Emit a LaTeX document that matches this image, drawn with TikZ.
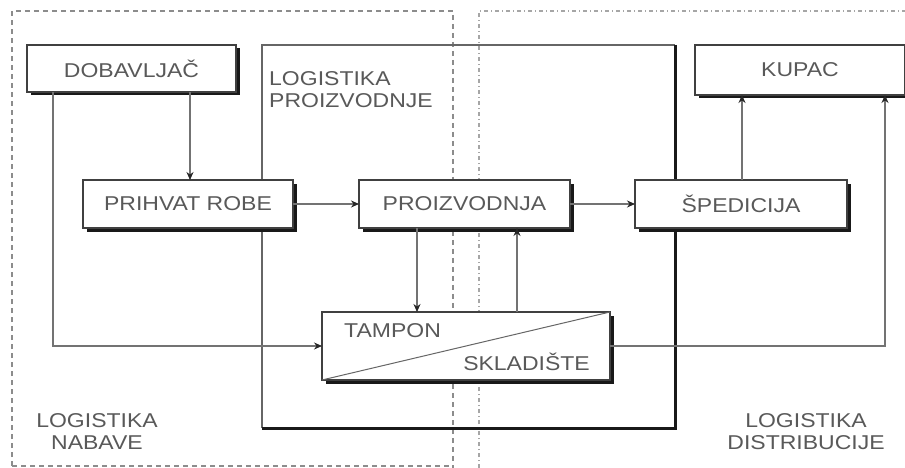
\documentclass[tikz,border=0pt]{standalone}
\usepackage{fontspec}
\setmainfont{Liberation Sans}[FakeStretch=1.15]
\usetikzlibrary{arrows.meta,shadows}
\begin{document}
\begin{tikzpicture}[x=1pt,y=-1pt,
  box/.style={draw=black!75,line width=1.1pt,fill=white,inner sep=0pt,outer sep=0pt,
    font=\fontsize{20}{22}\selectfont,text=black!65,
    drop shadow={shadow xshift=3.5pt,shadow yshift=-3.5pt,fill=black!90,opacity=1}},
  lbl/.style={font=\fontsize{20}{22}\selectfont,text=black!65,align=center,inner sep=0pt},
  conn/.style={draw=black!55,line width=1.1pt},
  arr/.style={conn,-{Stealth[length=8pt,width=7pt,black!85]}},
  region/.style={draw=black!45,line width=1.2pt,dash pattern=on 5pt off 4pt},
  region2/.style={draw=black!35,line width=1.2pt,dash pattern=on 4pt off 3pt on 1pt off 3pt}]
\useasboundingbox (0,0) rectangle (905,468);
\fill[white] (0,0) rectangle (905,468);
% regions
\draw[region] (12,466) -- (12,11) -- (453,11) -- (453,468);
\draw[region] (12,466) -- (453,466);
\draw[region2] (479,468) -- (479,11) -- (905,11);
% logistika proizvodnje box
\coordinate (lpnw) at (262,45);
\coordinate (lpse) at (675,428);
\draw[black!60,line width=1.1pt] (lpnw |- lpse) -- (lpnw) -- (lpnw -| lpse);
\draw[black!90,line width=3pt] (lpnw -| lpse) -- (lpse) -- (lpnw |- lpse);
% boxes
\node[box,minimum width=209pt,minimum height=47pt] (dob) at (131.5,68.5) {DOBAVLJAČ};
\node[box,minimum width=210pt,minimum height=48pt] (pri) at (188,204) {PRIHVAT ROBE};
\node[box,minimum width=211pt,minimum height=48pt] (pro) at (464.5,204) {PROIZVODNJA};
\node[box,minimum width=212pt,minimum height=48pt] (spe) at (741,204) {ŠPEDICIJA};
\node[box,minimum width=210pt,minimum height=50pt] (kup) at (800,70) {KUPAC};
\node[box,minimum width=288pt,minimum height=68pt] (tam) at (466,346) {};
\draw[black!60,line width=1pt] (tam.south west) -- (tam.north east);
\node[lbl,anchor=west] (tamt) at (344,331) {TAMPON};
\node[lbl,anchor=east] (skl) at (590,362) {SKLADIŠTE};
% labels
\node[lbl,align=left,anchor=north west] (lpl) at (269,71) {LOGISTIKA\\PROIZVODNJE};
\node[lbl] (lnl) at (97,432) {LOGISTIKA\\NABAVE};
\node[lbl] (ldl) at (806,432) {LOGISTIKA\\DISTRIBUCIJE};
% connectors
\draw[arr] (dob.south -| 190,0) -- (pri.north -| 190,0);
\draw[arr] (dob.south -| 53,0) |- (tam.west);
\draw[arr] (pri.east) -- (pro.west);
\draw[arr] (pro.east) -- (spe.west);
\draw[arr] (pro.south -| 417,0) -- (tam.north -| 417,0);
\draw[arr] (tam.north -| 517,0) -- (pro.south -| 517,0);
\draw[arr] (spe.north -| 742,0) -- (kup.south -| 742,0);
\draw[arr] (tam.east) -| (kup.south -| 885,0);
\end{tikzpicture}
\end{document}
